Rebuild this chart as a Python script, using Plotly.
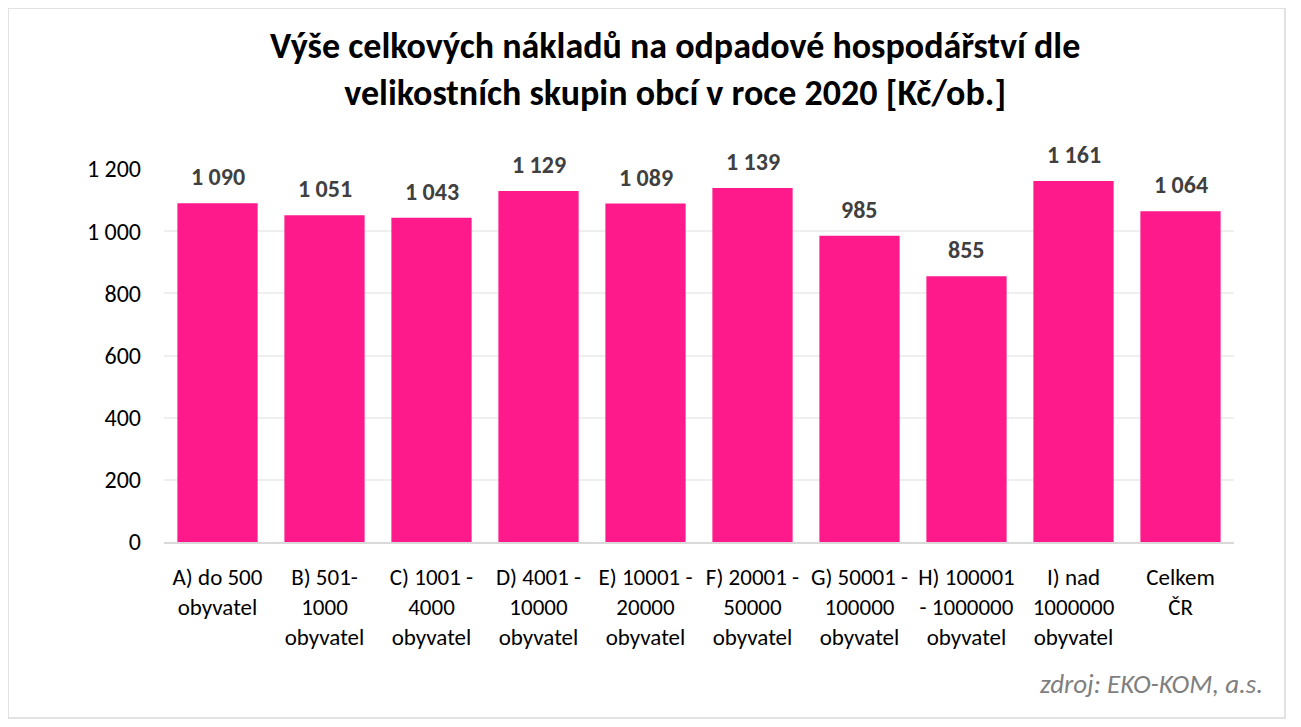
import plotly.graph_objects as go

categories = [
    "A) do 500<br>obyvatel",
    "B) 501-<br>1000<br>obyvatel",
    "C) 1001 -<br>4000<br>obyvatel",
    "D) 4001 -<br>10000<br>obyvatel",
    "E) 10001 -<br>20000<br>obyvatel",
    "F) 20001 -<br>50000<br>obyvatel",
    "G) 50001 -<br>100000<br>obyvatel",
    "H) 100001<br>- 1000000<br>obyvatel",
    "I) nad<br>1000000<br>obyvatel",
    "Celkem<br>ČR",
]
values = [1090, 1051, 1043, 1129, 1089, 1139, 985, 855, 1161, 1064]
y_ticks = [0, 200, 400, 600, 800, 1000, 1200]
title_lines = [
    "Výše celkových nákladů na odpadové hospodářství dle",
    "velikostních skupin obcí v roce 2020 [Kč/ob.]",
]

FONT = "Carlito, Calibri, Lato, sans-serif"
OFF = 8  # page body margin
W, H = 1301 - 2 * OFF, 727 - 2 * OFF
L, T = 164 - OFF, 169 - OFF
R = W - (1234 - OFF)
B = H - (542 - OFF)
pw, ph = W - L - R, H - T - B

def px(x):
    return (x - OFF - L) / pw

def py(y):
    return (H - B - (y - OFF)) / ph

fig = go.Figure(go.Bar(
    x=categories,
    y=values,
    marker=dict(color="#FF1A8C", line=dict(width=0)),
    hoverinfo="x+y",
))

annotations = []
for c, v in zip(categories, values):
    annotations.append(dict(
        x=c, y=v, xref="x", yref="y",
        text="<b>" + f"{v:,d}".replace(",", " ") + "</b>",
        showarrow=False, xanchor="center", yanchor="bottom", yshift=10,
        font=dict(family=FONT, size=24, color="#404040"),
    ))
annotations.append(dict(
    text="<b>" + "<br>".join(title_lines) + "</b>",
    x=px(675), y=py(69), xref="paper", yref="paper",
    xanchor="center", yanchor="middle", showarrow=False,
    font=dict(family=FONT, size=36, color="#000000"),
))
annotations.append(dict(
    text="<i>zdroj: EKO-KOM, a.s.</i>",
    x=px(1265), y=py(683), xref="paper", yref="paper",
    xanchor="right", yanchor="middle", showarrow=False,
    font=dict(family=FONT, size=27, color="#7f7f7f"),
))

fig.update_layout(
    width=W, height=H,
    margin=dict(l=L, r=R, t=T, b=B),
    paper_bgcolor="white",
    plot_bgcolor="white",
    separators=", ",
    bargap=0.25,
    showlegend=False,
    font=dict(family=FONT, color="#000000"),
    xaxis=dict(
        tickfont=dict(family=FONT, size=23, color="#000000"),
        showline=True, linecolor="#d9d9d9", linewidth=1.5,
        ticks="", showgrid=False,
        ticklabelstandoff=14,
    ),
    yaxis=dict(
        range=[0, 1200],
        tickvals=y_ticks,
        tickformat=",d",
        tickfont=dict(family=FONT, size=24, color="#000000"),
        showgrid=True, gridcolor="#efefef", gridwidth=1.5,
        zeroline=False, showline=False, ticks="",
        ticklabelstandoff=22,
    ),
    annotations=annotations,
    shapes=[
        dict(type="rect", xref="paper", yref="paper",
             x0=px(8), x1=px(1285), y0=py(718), y1=py(8),
             line=dict(color="#d9d9d9", width=1.5), fillcolor="rgba(0,0,0,0)",
             layer="below"),
    ],
)

fig.write_html("out.html")
